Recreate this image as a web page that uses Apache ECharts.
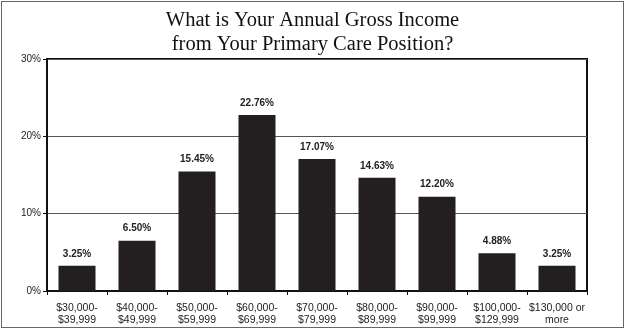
<!DOCTYPE html>
<html>
<head>
<meta charset="utf-8">
<script src="https://cdn.jsdelivr.net/npm/echarts@6/dist/echarts.min.js"></script>
<style>
  html, body { margin: 0; padding: 0; background: #fff; }
  #wrap { position: absolute; left: 1px; top: 1px; width: 621px; height: 325px; border: 1px solid #666; }
  #chart { position: absolute; left: -2px; top: -2px; width: 625px; height: 329px; }
</style>
</head>
<body>
<div id="wrap"><div id="chart"></div></div>
<script>
const categories = ['$30,000-\n$39,999', '$40,000-\n$49,999', '$50,000-\n$59,999', '$60,000-\n$69,999',
  '$70,000-\n$79,999', '$80,000-\n$89,999', '$90,000-\n$99,999', '$100,000-\n$129,999', '$130,000 or\nmore'];
const shares = [3.25, 6.50, 15.45, 22.76, 17.07, 14.63, 12.20, 4.88, 3.25];
const yTicks = [0, 10, 20, 30];

const chart = echarts.init(document.getElementById('chart'), null, { renderer: 'canvas' });
chart.setOption({
  animation: false,
  title: {
    text: 'What is Your Annual Gross Income\nfrom Your Primary Care Position?',
    left: 'center', top: 4,
    textStyle: { fontFamily: 'Liberation Serif', fontWeight: 'normal', fontSize: 20.5, lineHeight: 24, color: '#111' }
  },
  grid: { left: 47, right: 38, top: 59, bottom: 38, show: true, borderColor: '#111', borderWidth: 2, backgroundColor: 'transparent' },
  xAxis: {
    type: 'category', data: categories,
    axisLine: { lineStyle: { color: '#111', width: 2 } },
    axisTick: { show: true, length: 4, lineStyle: { color: '#111' } },
    axisLabel: { fontFamily: 'Liberation Sans', fontSize: 10.5, lineHeight: 12, color: '#222', margin: 11, interval: 0 }
  },
  yAxis: {
    type: 'value', min: yTicks[0], max: yTicks[yTicks.length - 1], interval: 10,
    axisLine: { show: true, lineStyle: { color: '#111', width: 2 } },
    axisTick: { show: true, length: 4, lineStyle: { color: '#111' } },
    axisLabel: { formatter: '{value}%', fontFamily: 'Liberation Sans', fontSize: 10, color: '#222', margin: 6 },
    splitLine: { show: true, lineStyle: { color: '#555', width: 1 } }
  },
  series: [{
    type: 'bar', data: shares, barWidth: 37,
    itemStyle: { color: '#231f20' },
    label: {
      show: true, position: 'top', distance: 7,
      formatter: p => p.value.toFixed(2) + '%',
      fontFamily: 'Liberation Sans', fontWeight: 'bold', fontSize: 10, color: '#222'
    }
  }]
});
</script>
</body>
</html>
